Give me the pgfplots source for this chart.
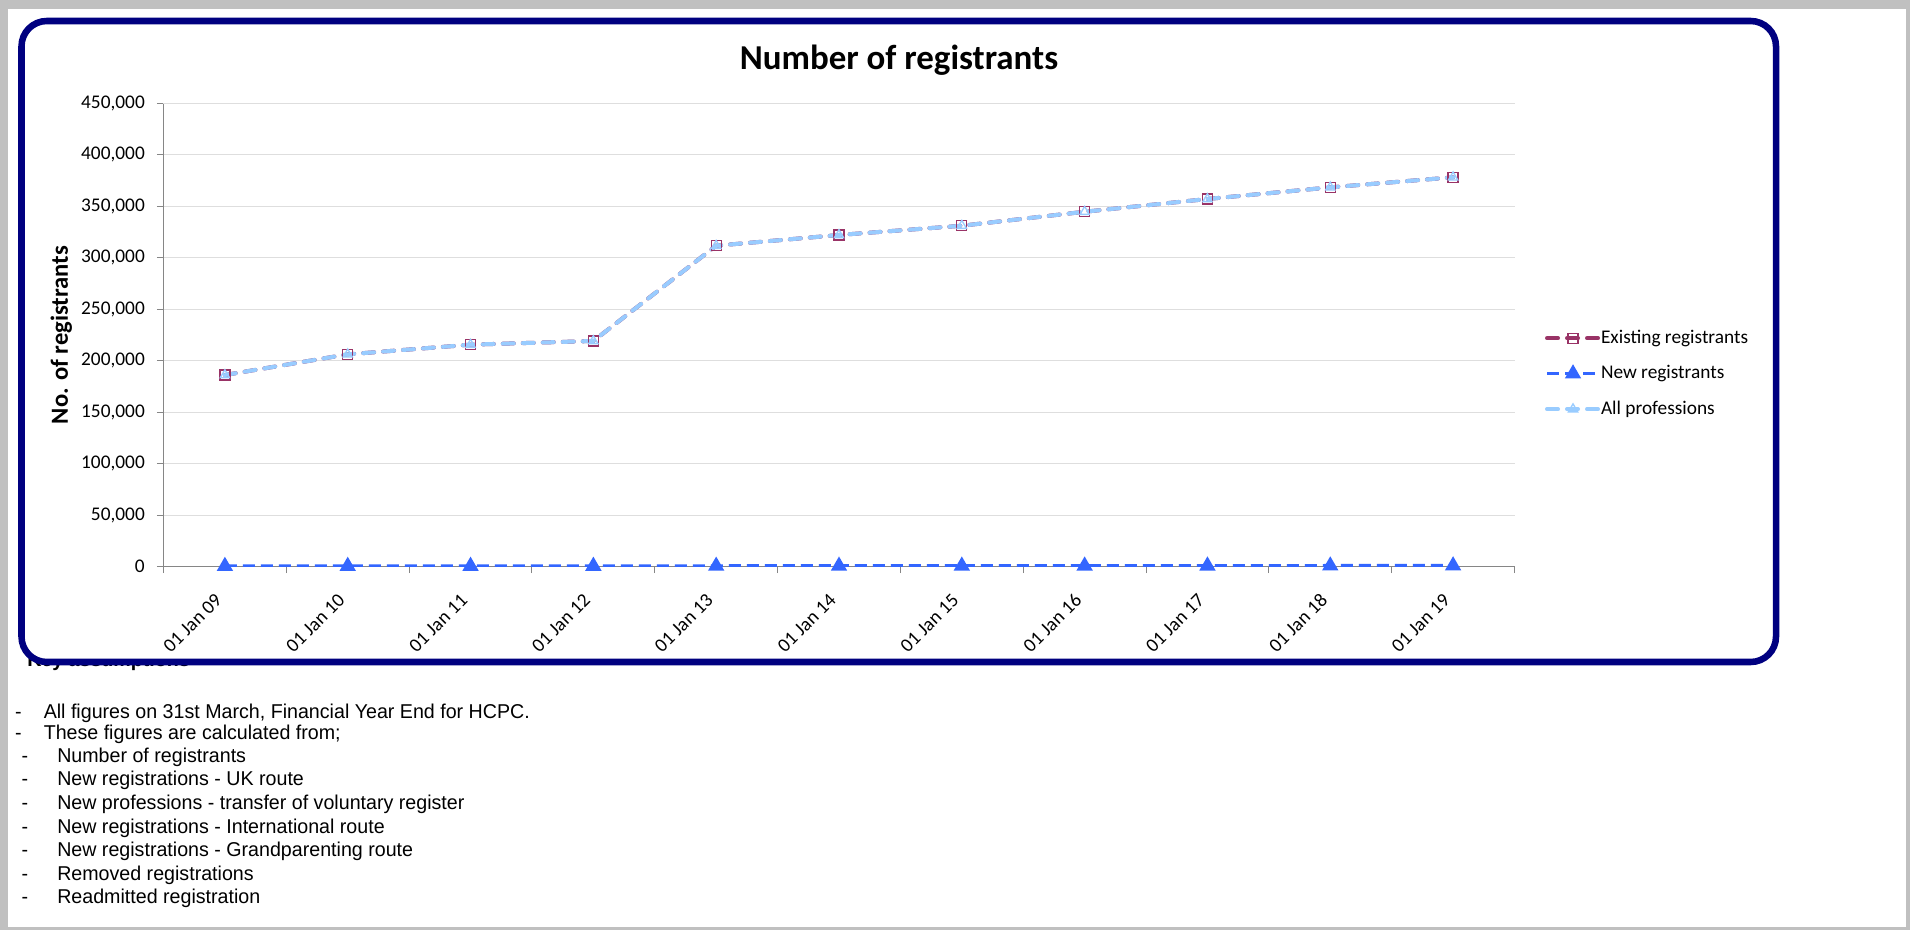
\documentclass[border=0pt]{standalone}
\usepackage{pgfplots}
\usepackage{pgfplotstable}
\pgfplotsset{compat=1.18}
\usepackage{fontspec}
\setmainfont{Carlito}
\newfontfamily\arialn[FakeStretch=0.982]{Liberation Sans}
\definecolor{framecol}{RGB}{0,0,128}
\definecolor{exist}{RGB}{153,51,102}
\definecolor{newreg}{RGB}{51,102,255}
\definecolor{allprof}{RGB}{153,204,255}
\definecolor{axgray}{RGB}{134,134,134}
\definecolor{gridgray}{RGB}{222,222,222}
\definecolor{bordergray}{RGB}{192,192,192}

\pgfplotstableread{
x existing new all
0 186100 300 186100
1 206200 350 206200
2 215600 400 215600
3 219200 450 219200
4 311800 500 311800
5 322200 550 322200
6 331200 600 331200
7 344800 650 344800
8 357200 700 357200
9 368500 750 368500
10 378300 800 378300
}\datatable

\begin{document}
\begin{tikzpicture}
\begin{scope}[x=0.75pt,y=-0.75pt]
\fill[bordergray] (0,0) rectangle (1910,930);
\fill[white] (8,9) rectangle (1906,927);
\node[font=\arialn\bfseries\fontsize{15}{18}\selectfont, anchor=base west, inner sep=0pt] at (27,666) {Key assumptions};
\draw[framecol, line width=4.9pt, fill=white, rounded corners=19pt] (21.5,21) rectangle (1776,662);
\node[font=\bfseries\fontsize{26.2}{30}\selectfont, anchor=base, inner sep=0pt] at (899,69.5) {Number of registrants};
\begin{scope}[every node/.style={font=\arialn\fontsize{15}{18}\selectfont, inner sep=0pt}]
\node[anchor=base] at (18.5,718) {-};
\node[anchor=base west] at (43.5,718) {All figures on 31st March, Financial Year End for HCPC.};
\node[anchor=base] at (18.5,739) {-};
\node[anchor=base west] at (43.5,739) {These figures are calculated from;};
\node[anchor=base] at (25,762.6) {-};
\node[anchor=base west] at (57,762.6) {Number of registrants};
\node[anchor=base] at (25,785.8) {-};
\node[anchor=base west] at (57,785.8) {New registrations - UK route};
\node[anchor=base] at (25,809) {-};
\node[anchor=base west] at (57,809) {New professions - transfer of voluntary register};
\node[anchor=base] at (25,833.2) {-};
\node[anchor=base west] at (57,833.2) {New registrations - International route};
\node[anchor=base] at (25,856.8) {-};
\node[anchor=base west] at (57,856.8) {New registrations - Grandparenting route};
\node[anchor=base] at (25,880.8) {-};
\node[anchor=base west] at (57,880.8) {Removed registrations};
\node[anchor=base] at (25,903.8) {-};
\node[anchor=base west] at (57,903.8) {Readmitted registration};
\end{scope}
\end{scope}
\begin{axis}[
  at={(122.625pt,-424.875pt)}, anchor=south west,
  scale only axis, width=1013.25pt, height=347.25pt,
  xmin=-0.5, xmax=10.5, ymin=0, ymax=450000,
  axis lines*=left,
  axis line style={axgray, line width=0.75pt},
  tick align=outside,
  tick style={axgray, line width=0.75pt},
  major tick length=5pt,
  minor tick length=5pt,
  ytick={0,50000,...,450000},
  scaled y ticks=false,
  yticklabel style={font=\fontsize{14.5}{17}\selectfont, /pgf/number format/fixed, /pgf/number format/1000 sep={,}, /pgf/number format/assume math mode=true, xshift=-5.5pt},
  ymajorgrids,
  grid style={gridgray, line width=0.75pt},
  xtick={0,1,2,3,4,5,6,7,8,9,10},
  xticklabels={01 Jan 09,01 Jan 10,01 Jan 11,01 Jan 12,01 Jan 13,01 Jan 14,01 Jan 15,01 Jan 16,01 Jan 17,01 Jan 18,01 Jan 19},
  minor xtick={-0.5,0.5,...,10.5},
  every major x tick/.append style={draw=none},
  xticklabel style={font=\fontsize{14.5}{17}\selectfont, xshift=-2.3pt, yshift=-15.4pt, rotate=45, anchor=east},
  ylabel={No. of registrants},
  ylabel style={font=\bfseries\fontsize{18.45}{22}\selectfont, at={(axis description cs:-0.0707,0.5)}, anchor=base, rotate=0},
  legend style={at={(axis description cs:1.0226,0.4164)}, anchor=west, draw=none, fill=none, inner sep=0pt, outer sep=0pt,
    font=\fontsize{14.5}{17}\selectfont, row sep=12.9pt,
    nodes={inner sep=0pt, text height=10.5pt, text depth=3.2pt},
    /tikz/every even column/.append style={column sep=3.75pt}},
  legend cell align=left,
  legend image code/.code={\draw[mark repeat=2,mark phase=2,#1] plot coordinates {(0pt,0pt) (19.5pt,0pt) (39pt,0pt)};},
]
\addplot[exist, line width=3pt, dash pattern=on 8.25pt off 6.75pt, line cap=round, mark=square, mark size=3.75pt, mark options={solid, exist, line width=1pt, fill=white}] table[x=x,y=existing] {\datatable};
\addlegendentry{Existing registrants}
\addplot[newreg, line width=2.6pt, dash pattern=on 9pt off 4.5pt, mark=triangle*, mark size=4.5pt, mark options={solid, newreg}] table[x=x,y=new] {\datatable};
\addlegendentry{New registrants}
\addplot[allprof, line width=3pt, dash pattern=on 8.25pt off 6.75pt, line cap=round, mark=triangle, mark size=4pt, mark options={solid, allprof, line width=1pt}] table[x=x,y=all] {\datatable};
\addlegendentry{All professions}
\end{axis}
\pgfresetboundingbox
\useasboundingbox (0,0) rectangle (1432.5pt,-697.5pt);
\end{tikzpicture}
\end{document}
